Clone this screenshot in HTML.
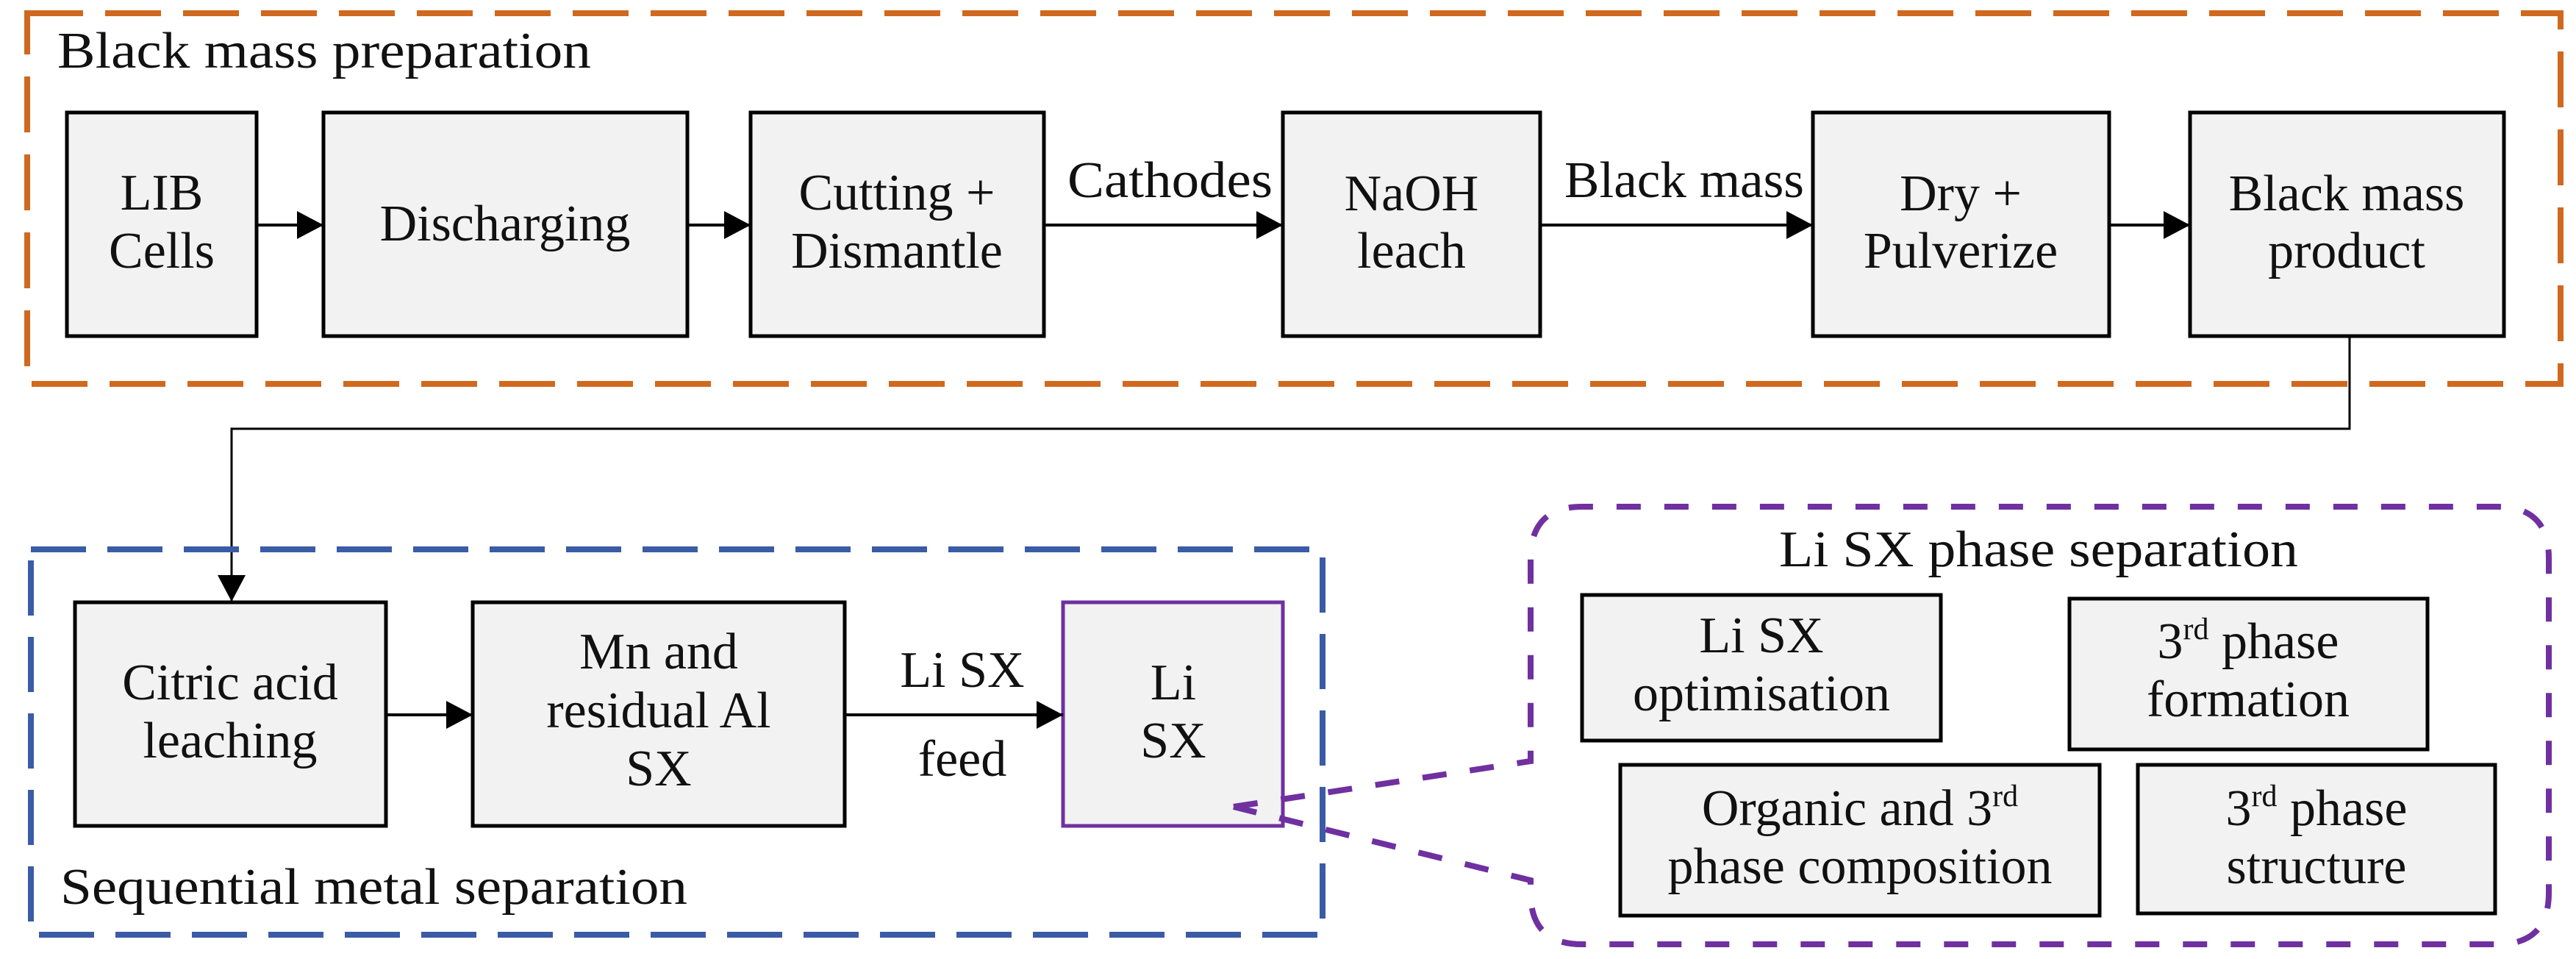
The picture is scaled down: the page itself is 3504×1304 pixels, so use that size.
<!DOCTYPE html>
<html><head><meta charset="utf-8"><style>
html,body{margin:0;padding:0;background:#fff;}
svg{display:block;}
text{font-family:"Liberation Serif",serif;font-size:70px;fill:#111;}
.c{text-anchor:middle;}
.b{fill:#f2f2f2;stroke:#000;stroke-width:5;}
</style></head><body>
<svg width="3504" height="1304" viewBox="0 0 3504 1304" xmlns="http://www.w3.org/2000/svg">
<defs>
<marker id="ah" markerWidth="36" markerHeight="38" refX="10" refY="5" orient="auto" markerUnits="userSpaceOnUse" viewBox="0 0 10 10" preserveAspectRatio="none">
<path d="M0,0 L10,5 L0,10 Z" fill="#000"/></marker>
</defs>
<!-- Orange box -->
<rect x="37" y="18" width="3446" height="504" fill="none" stroke="#d0691f" stroke-width="8" stroke-dasharray="76 30"/>
<text x="78" y="92" textLength="726" lengthAdjust="spacingAndGlyphs">Black mass preparation</text>

<!-- Top boxes -->
<rect class="b" x="91" y="153" width="258" height="304"/>
<rect class="b" x="440" y="153" width="495" height="304"/>
<rect class="b" x="1021" y="153" width="399" height="304"/>
<rect class="b" x="1745" y="153" width="350" height="304"/>
<rect class="b" x="2466" y="153" width="403" height="304"/>
<rect class="b" x="2979" y="153" width="427" height="304"/>

<text class="c" x="220" y="285">LIB</text><text class="c" x="220" y="364">Cells</text>
<text class="c" x="687" y="327">Discharging</text>
<text class="c" x="1220" y="285">Cutting +</text><text class="c" x="1220" y="364">Dismantle</text>
<text class="c" x="1920" y="286">NaOH</text><text class="c" x="1920" y="364">leach</text>
<text class="c" x="2667" y="286">Dry +</text><text class="c" x="2667" y="364">Pulverize</text>
<text class="c" x="3192" y="286">Black mass</text><text class="c" x="3192" y="364">product</text>
<text x="1452" y="268" textLength="279" lengthAdjust="spacingAndGlyphs">Cathodes</text>
<text x="2128" y="268" textLength="326" lengthAdjust="spacingAndGlyphs">Black mass</text>

<!-- top arrows -->
<g stroke="#000" stroke-width="4" fill="none">
<line x1="349" y1="306" x2="440" y2="306" marker-end="url(#ah)"/>
<line x1="935" y1="306" x2="1021" y2="306" marker-end="url(#ah)"/>
<line x1="1420" y1="306" x2="1745" y2="306" marker-end="url(#ah)"/>
<line x1="2095" y1="306" x2="2466" y2="306" marker-end="url(#ah)"/>
<line x1="2869" y1="306" x2="2979" y2="306" marker-end="url(#ah)"/>
</g>
<!-- connector -->
<polyline points="3196,457 3196,583 315,583 315,818" fill="none" stroke="#000" stroke-width="3" marker-end="url(#ah)"/>

<!-- Blue box -->
<rect x="42" y="747" width="1757" height="524" fill="none" stroke="#3a5ba6" stroke-width="8" stroke-dasharray="75 29"/>
<text x="82" y="1229" textLength="853" lengthAdjust="spacingAndGlyphs">Sequential metal separation</text>

<rect class="b" x="102" y="819" width="423" height="304"/>
<rect class="b" x="643" y="819" width="506" height="304"/>
<rect x="1446" y="819" width="299" height="304" fill="#f2f2f2" stroke="#7030a0" stroke-width="5"/>
<text class="c" x="313" y="951">Citric acid</text><text class="c" x="313" y="1030">leaching</text>
<text class="c" x="896" y="909">Mn and</text><text class="c" x="896" y="989">residual Al</text><text class="c" x="896" y="1068">SX</text>
<text class="c" x="1596" y="951">Li</text><text class="c" x="1596" y="1030">SX</text>
<text class="c" x="1309" y="934">Li SX</text><text class="c" x="1309" y="1055">feed</text>
<g stroke="#000" stroke-width="4" fill="none">
<line x1="525" y1="972" x2="643" y2="972" marker-end="url(#ah)"/>
<line x1="1149" y1="972" x2="1446" y2="972" marker-end="url(#ah)"/>
</g>

<!-- Purple callout -->
<path d="M1678,1097 L2082,1035 L2082,760 Q2082,689 2152,689 L3397,689 Q3467,689 3467,759 L3467,1214 Q3467,1284 3397,1284 L2152,1284 Q2082,1284 2082,1214 L2082,1197 L1678,1097" fill="none" stroke="#7030a0" stroke-width="8" stroke-dasharray="33 32"/>
<text x="2420" y="770" textLength="706" lengthAdjust="spacingAndGlyphs">Li SX phase separation</text>

<rect class="b" x="2152" y="809" width="488" height="198"/>
<rect class="b" x="2815" y="814" width="487" height="205"/>
<rect class="b" x="2204" y="1040" width="652" height="205"/>
<rect class="b" x="2908" y="1040" width="486" height="202"/>
<text class="c" x="2396" y="887">Li SX</text><text class="c" x="2396" y="966">optimisation</text>
<text class="c" x="3058" y="895">3<tspan font-size="42" dy="-26">rd</tspan><tspan dy="26"> phase</tspan></text><text class="c" x="3058" y="974">formation</text>
<text class="c" x="2530" y="1122">Organic and 3<tspan font-size="42" dy="-26">rd</tspan></text><text class="c" x="2530" y="1201">phase composition</text>
<text class="c" x="3151" y="1122">3<tspan font-size="42" dy="-26">rd</tspan><tspan dy="26"> phase</tspan></text><text class="c" x="3151" y="1201">structure</text>
</svg>
</body></html>
